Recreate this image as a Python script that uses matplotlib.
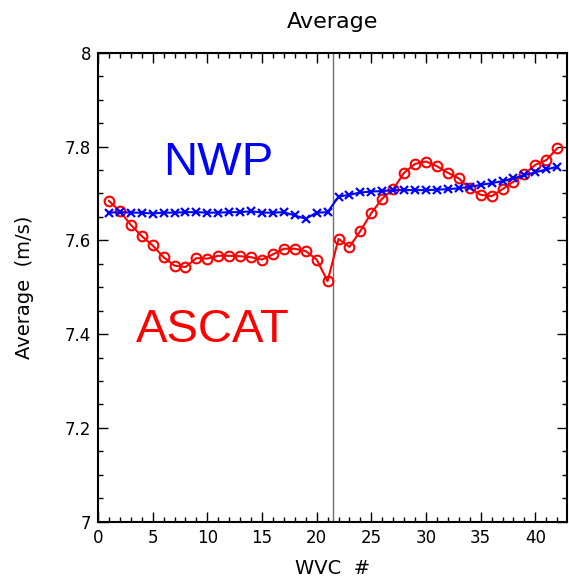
import matplotlib
matplotlib.use("Agg")
import matplotlib.pyplot as plt
from matplotlib.ticker import MultipleLocator

# WVC index and average winds (m/s)
wvc = list(range(1, 43))
ascat = [7.684, 7.662, 7.633, 7.609, 7.589, 7.564, 7.546, 7.543, 7.562, 7.561,
         7.567, 7.567, 7.566, 7.564, 7.559, 7.570, 7.582, 7.582, 7.577, 7.559,
         7.513, 7.603, 7.586, 7.620, 7.658, 7.689, 7.709, 7.744, 7.763, 7.768,
         7.758, 7.744, 7.732, 7.711, 7.697, 7.694, 7.709, 7.725, 7.741, 7.761,
         7.771, 7.796]
nwp = [7.659, 7.660, 7.659, 7.659, 7.657, 7.659, 7.659, 7.660, 7.660, 7.659,
       7.659, 7.660, 7.660, 7.662, 7.659, 7.659, 7.660, 7.653, 7.646, 7.659,
       7.660, 7.693, 7.697, 7.702, 7.704, 7.705, 7.707, 7.707, 7.707, 7.707,
       7.708, 7.709, 7.711, 7.714, 7.718, 7.722, 7.726, 7.732, 7.739, 7.745,
       7.751, 7.757]
nadir = 21.5

plt.rcParams['font.family'] = ['DejaVu Sans']

fig = plt.figure(figsize=(5.69, 5.83), dpi=100)
ax = fig.add_axes([0.1722, 0.1051, 0.8243, 0.8045])

ax.axvline(nadir, color="#707070", lw=1.0, zorder=1)
ax.plot(wvc, ascat, color="red", lw=1.5, marker="o", markersize=7,
        markerfacecolor="none", markeredgewidth=1.5, zorder=3)
ax.plot(wvc, nwp, color="blue", lw=1.5, marker="x", markersize=5.5,
        markeredgewidth=1.6, zorder=3)

ax.text(11.0, 7.764, "NWP", color="blue", fontsize=34, ha="center", va="center",
        family="Liberation Sans")
ax.text(10.5, 7.409, "ASCAT", color="red", fontsize=34, ha="center", va="center",
        family="Liberation Sans")

ax.set_xlim(0, 42.9)
ax.set_ylim(7, 8)
ax.xaxis.set_major_locator(MultipleLocator(5))
ax.xaxis.set_minor_locator(MultipleLocator(1))
ax.yaxis.set_major_locator(MultipleLocator(0.2))
ax.yaxis.set_minor_locator(MultipleLocator(0.05))
ax.yaxis.set_major_formatter(plt.FuncFormatter(lambda v, p: "%g" % round(v, 2)))
ax.tick_params(which="both", direction="in", top=True, right=True, labelsize=12, width=1.0)
ax.tick_params(which="major", length=7, pad=5)
ax.tick_params(which="minor", length=3.5)
for s in ax.spines.values():
    s.set_linewidth(1.5)

ax.set_title("Average", fontsize=16, pad=18)
ax.set_xlabel("WVC  #", fontsize=14, labelpad=9)
ax.set_ylabel("Average  (m/s)", fontsize=14, labelpad=22)

fig.savefig("out.png", dpi=100)
